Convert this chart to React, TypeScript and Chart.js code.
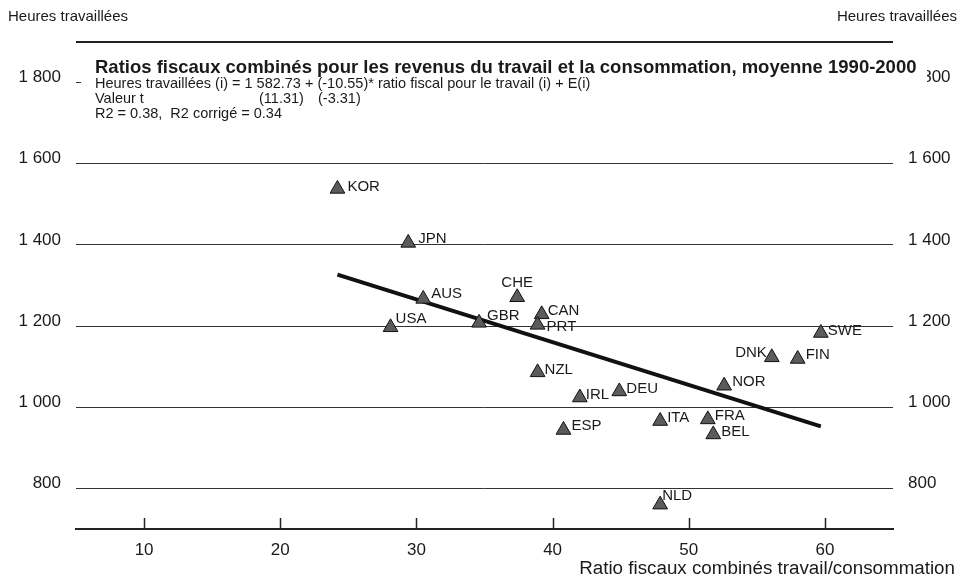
import React, { useEffect, useRef } from "react";
import { Chart, registerables } from "chart.js";

Chart.register(...registerables);

// ---- Data ----
const countries = ["KOR", "JPN", "AUS", "USA", "GBR", "CHE", "CAN", "PRT", "NZL", "IRL", "DEU", "ESP", "ITA", "FRA", "BEL", "NOR", "DNK", "FIN", "SWE", "NLD"];
const taxRatio = [24.2, 29.4, 30.5, 28.1, 34.6, 37.4, 39.2, 38.9, 38.9, 42.0, 44.9, 40.8, 47.9, 51.4, 51.8, 52.6, 56.1, 58.0, 59.7, 47.9];
const hoursWorked = [1538, 1405, 1267, 1197, 1208, 1271, 1229, 1203, 1086, 1024, 1039, 944, 966, 970, 933, 1053, 1123, 1119, 1183, 760];

// Fitted regression line end points
const fitX = [24.2, 59.7];
const fitY = [1327, 953];

// Axis ticks
const xTicks = [10, 20, 30, 40, 50, 60];
const yTicks = [800, 1000, 1200, 1400, 1600, 1800];

// Texts
const yTitle = "Heures travaillées";
const xTitle = "Ratio fiscaux combinés travail/consommation";
const chartTitle = "Ratios fiscaux combinés pour les revenus du travail et la consommation, moyenne 1990-2000";
const eqLine1 = "Heures travaillées (i) = 1 582.73 + (-10.55)* ratio fiscal pour le travail (i) + E(i)";
const eqLine2a = "Valeur t";
const eqLine2b = "(11.31)";
const eqLine2c = "(-3.31)";
const eqLine3 = "R2 = 0.38,  R2 corrigé = 0.34";

// Label placement (style): [dx, dy, align]
const labelPlacement: Record<string, [number, number, CanvasTextAlign]> = {
  KOR: [10, -2, "left"],
  JPN: [10, -4, "left"],
  AUS: [8, -5, "left"],
  USA: [5, -8, "left"],
  GBR: [8, -7, "left"],
  CHE: [0, -14, "center"],
  CAN: [6, -3, "left"],
  PRT: [9, 2, "left"],
  NZL: [7, -2, "left"],
  IRL: [6, -3, "left"],
  DEU: [7, -3, "left"],
  ESP: [8, -4, "left"],
  ITA: [7, -3, "left"],
  FRA: [7, -4, "left"],
  BEL: [8, -3, "left"],
  NOR: [8, -4, "left"],
  DNK: [-5, -4, "right"],
  FIN: [8, -4, "left"],
  SWE: [7, -2, "left"],
  NLD: [2, -9, "left"],
};

const SANS = "'Liberation Sans', Arial, sans-serif";

function fmtThousands(v: number): string {
  if (v >= 1000) return `${Math.floor(v / 1000)} ${String(v % 1000).padStart(3, "0")}`;
  return String(v);
}

const overlayPlugin = {
  id: "overlay",
  afterDraw(chart: any) {
    const ctx: CanvasRenderingContext2D = chart.ctx;
    const xs = chart.scales.x;
    const ys = chart.scales.y;
    const area = chart.chartArea;
    ctx.save();

    // inward x tick marks
    ctx.strokeStyle = "#222";
    ctx.lineWidth = 1.5;
    xTicks.forEach((t) => {
      const px = Math.round(xs.getPixelForValue(t)) + 0.5;
      ctx.beginPath();
      ctx.moveTo(px, area.bottom);
      ctx.lineTo(px, area.bottom - 11);
      ctx.stroke();
    });

    // point labels
    ctx.fillStyle = "#1a1a1a";
    ctx.font = `15px ${SANS}`;
    ctx.textBaseline = "middle";
    countries.forEach((c, i) => {
      const px = xs.getPixelForValue(taxRatio[i]);
      const py = ys.getPixelForValue(hoursWorked[i]);
      const [dx, dy, align] = labelPlacement[c] || [8, -3, "left"];
      ctx.textAlign = align;
      ctx.fillText(c, px + dx, py + dy);
    });

    // title box
    ctx.fillStyle = "#ffffff";
    ctx.fillRect(81, 50, 846, 74);

    ctx.fillStyle = "#1a1a1a";
    ctx.textAlign = "left";
    ctx.textBaseline = "middle";
    ctx.font = `bold 18.5px ${SANS}`;
    ctx.fillText(chartTitle, 95, 68);
    ctx.font = `14.5px ${SANS}`;
    ctx.fillText(eqLine1, 95, 84);
    ctx.fillText(eqLine2a, 95, 99);
    ctx.fillText(eqLine2b, 259, 99);
    ctx.fillText(eqLine2c, 318, 99);
    ctx.fillText(eqLine3, 95, 114);

    // axis headers
    ctx.font = `15px ${SANS}`;
    ctx.textAlign = "left";
    ctx.fillText(yTitle, 8, 17);
    ctx.textAlign = "right";
    ctx.fillText(yTitle, 957, 17);
    ctx.font = `18.8px ${SANS}`;
    ctx.fillText(xTitle, 955, 569);

    ctx.restore();
  },
};

export default function App() {
  const ref = useRef<HTMLCanvasElement | null>(null);

  useEffect(() => {
    document.body.style.margin = "0";
    const canvas = ref.current;
    if (!canvas) return;

    const scatterData = countries.map((c, i) => ({ x: taxRatio[i], y: hoursWorked[i] }));
    const lineData = fitX.map((x, i) => ({ x, y: fitY[i] }));

    const yTickBuild = (scale: any) => {
      scale.ticks = [700, ...yTicks, 1900].map((v) => ({ value: v }));
    };

    const chart = new Chart(canvas, {
      type: "scatter",
      data: {
        datasets: [
          {
            type: "scatter",
            label: "Pays",
            data: scatterData,
            pointStyle: "triangle",
            pointRadius: 8.5,
            pointHoverRadius: 8.5,
            backgroundColor: "#5b5b5b",
            borderColor: "#111",
            borderWidth: 1,
            order: 1,
          },
          {
            type: "line",
            label: "Régression",
            data: lineData,
            borderColor: "#111",
            borderWidth: 4,
            pointRadius: 0,
            fill: false,
            order: 2,
          } as any,
        ],
      },
      options: {
        responsive: false,
        animation: false,
        devicePixelRatio: 1,
        layout: { padding: { top: 42, left: 0, right: 0, bottom: 0 } },
        plugins: {
          legend: { display: false },
          tooltip: { enabled: false },
          title: { display: false },
        },
        scales: {
          x: {
            type: "linear",
            min: 5,
            max: 65,
            afterFit: (s: any) => {
              s.height = 51;
            },
            afterBuildTicks: (s: any) => {
              s.ticks = xTicks.map((v) => ({ value: v }));
            },
            grid: { display: false, drawTicks: false },
            border: { display: true, color: "#222", width: 2 },
            ticks: {
              padding: 11,
              color: "#1a1a1a",
              font: { family: SANS, size: 17 },
            },
          },
          y: {
            type: "linear",
            position: "left",
            min: 700,
            max: 1900,
            afterFit: (s: any) => {
              s.width = 76;
            },
            afterBuildTicks: yTickBuild,
            grid: {
              drawTicks: false,
              color: (c: any) => (c.tick && c.tick.value === 700 ? "rgba(0,0,0,0)" : c.tick && c.tick.value === 1900 ? "#222" : "#333"),
              lineWidth: (c: any) => (c.tick && c.tick.value === 1900 ? 2 : 1),
            },
            border: { display: false },
            ticks: {
              padding: 15,
              labelOffset: -5,
              color: "#1a1a1a",
              font: { family: SANS, size: 17 },
              callback: (v: any) => (v === 700 || v === 1900 ? "" : fmtThousands(Number(v))),
            },
          },
          y2: {
            type: "linear",
            position: "right",
            min: 700,
            max: 1900,
            afterFit: (s: any) => {
              s.width = 70;
            },
            afterBuildTicks: yTickBuild,
            grid: { display: false, drawTicks: false },
            border: { display: false },
            ticks: {
              padding: 15,
              labelOffset: -5,
              color: "#1a1a1a",
              font: { family: SANS, size: 17 },
              callback: (v: any) => (v === 700 || v === 1900 ? "" : fmtThousands(Number(v))),
            },
          },
        },
      },
      plugins: [overlayPlugin],
    });

    return () => chart.destroy();
  }, []);

  return (
    <div style={{ width: 963, height: 580, background: "#fff" }}>
      <canvas ref={ref} width={963} height={580} style={{ display: "block" }} />
    </div>
  );
}
